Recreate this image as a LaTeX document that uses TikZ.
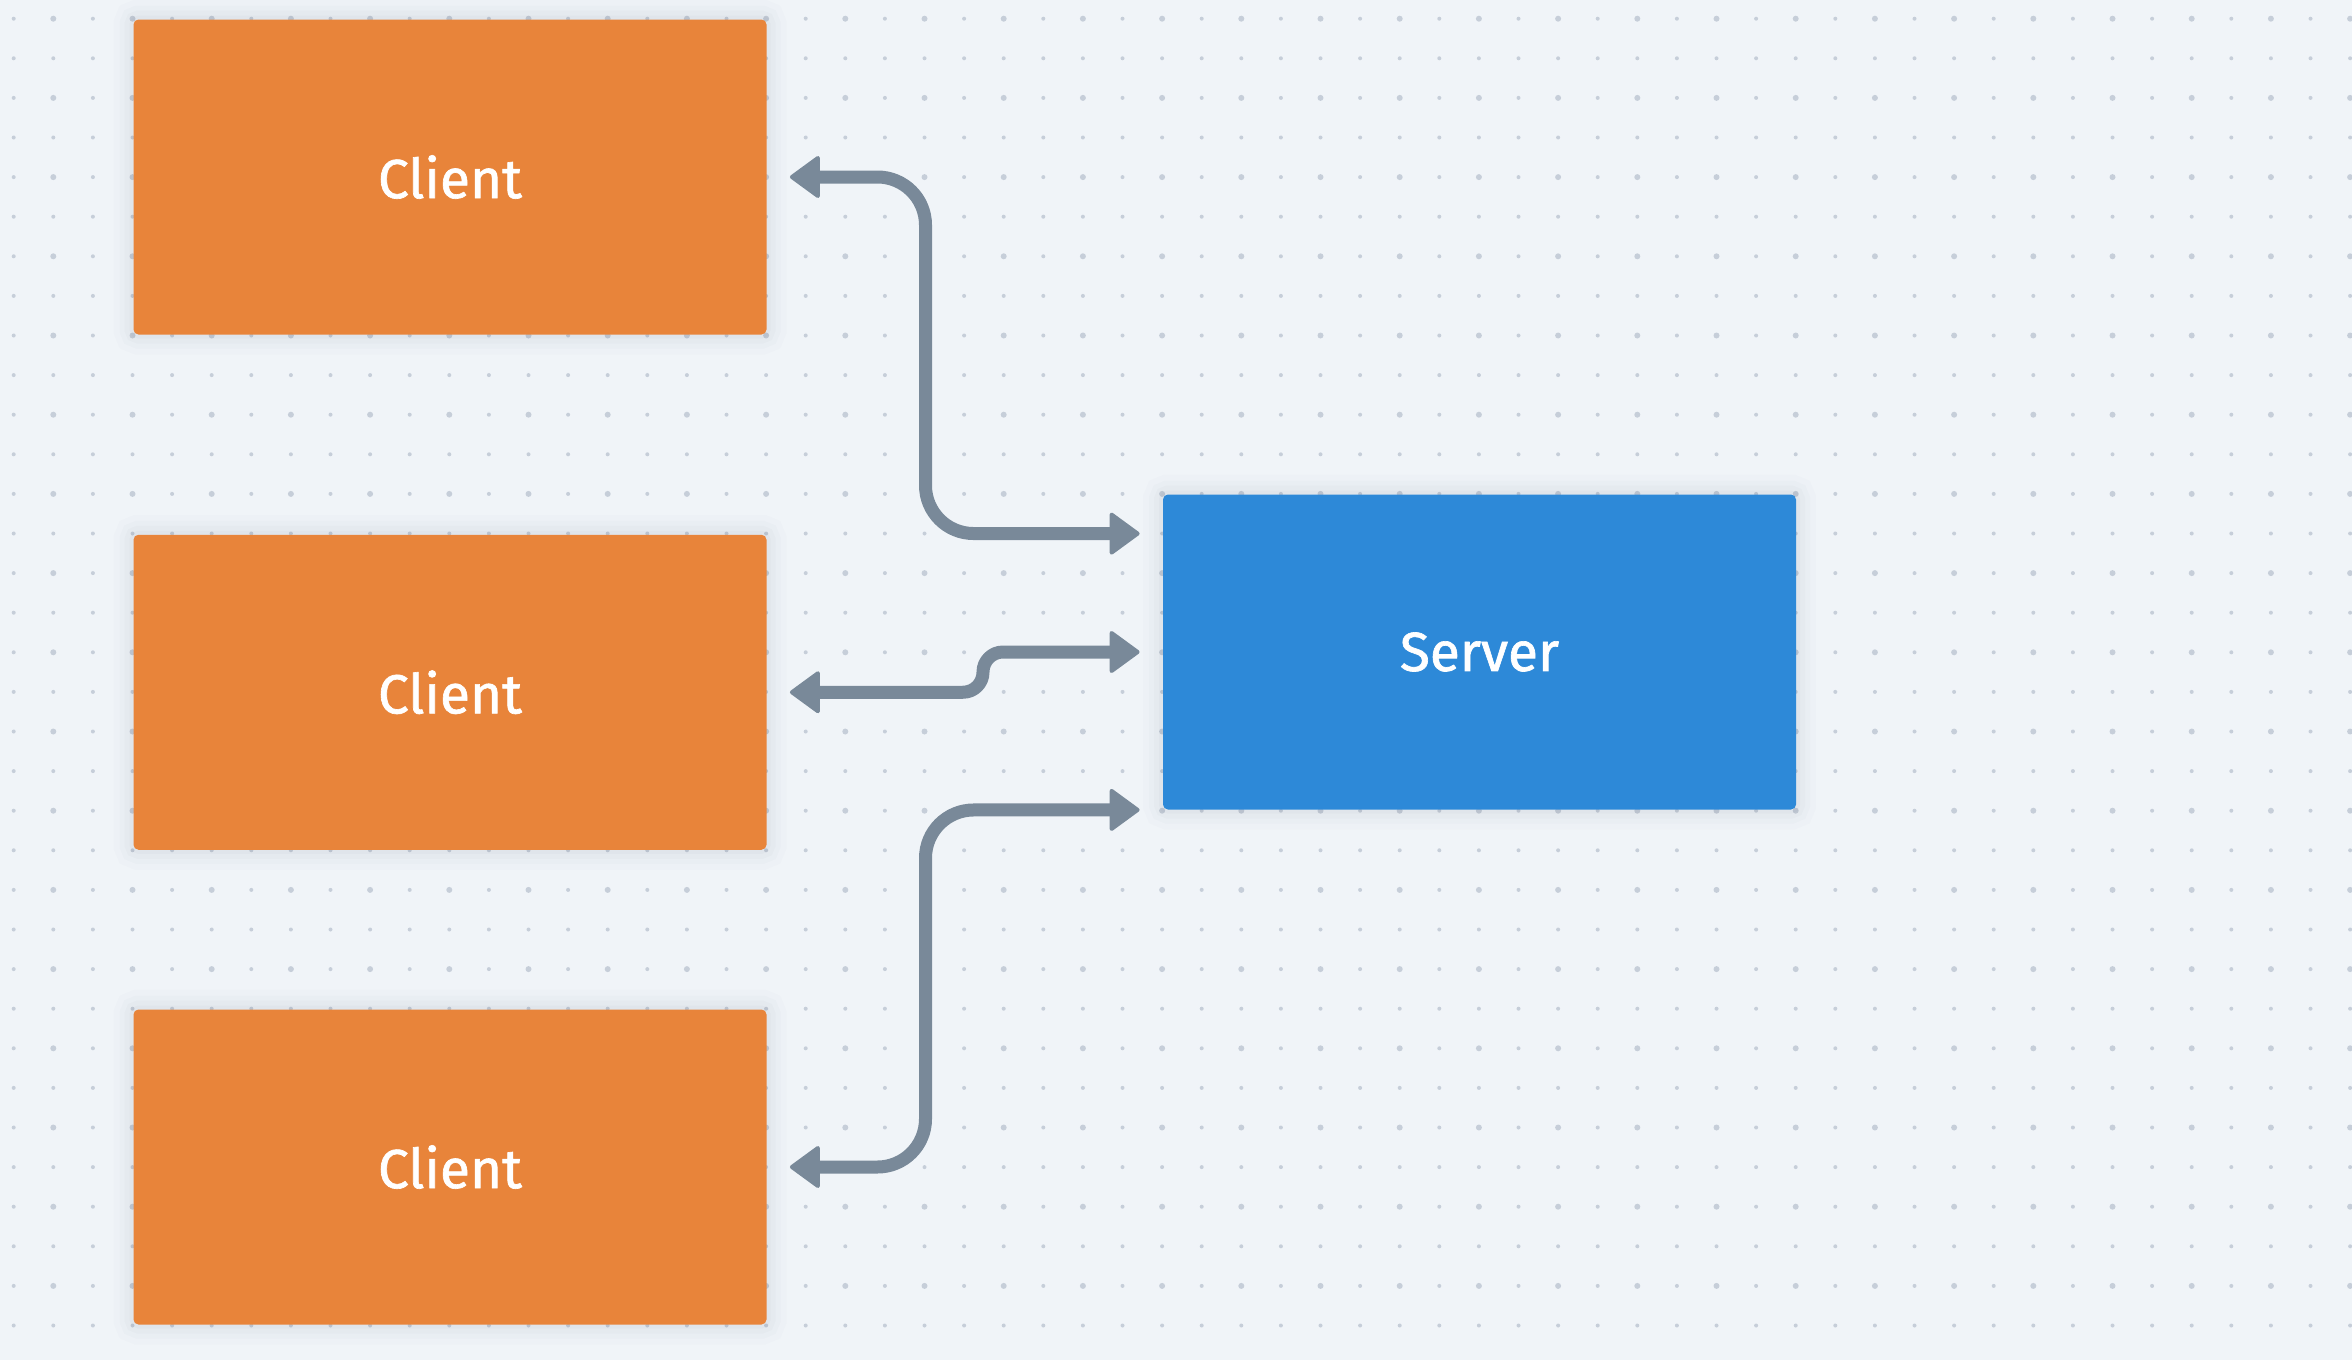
\documentclass[tikz,border=0pt]{standalone}
\usepackage{fontspec}
\setmainfont{Fira Sans}
\newfontfamily\boxfont{Fira Sans}[FakeBold=1.2]
\usetikzlibrary{calc}
\definecolor{bgc}{HTML}{F0F4F8}
\definecolor{dotc}{HTML}{C6CED9}
\definecolor{orangec}{HTML}{E8843A}
\definecolor{bluec}{HTML}{2D89D8}
\definecolor{linec}{HTML}{798999}
\definecolor{shadc}{HTML}{2A3A55}
\tikzset{
  boxbase/.style={rectangle, rounded corners=2.5pt, inner sep=0pt,
    minimum width=316.5pt, minimum height=157.5pt, text=white,
    font=\boxfont\fontsize{27.5pt}{32pt}\selectfont,
    preaction={draw=shadc, draw opacity=0.012, line width=20pt},
    preaction={draw=shadc, draw opacity=0.015, line width=14pt},
    preaction={draw=shadc, draw opacity=0.02, line width=9pt},
    preaction={draw=shadc, draw opacity=0.025, line width=4pt}},
  clientbox/.style={boxbase, fill=orangec},
  serverbox/.style={boxbase, fill=bluec},
  conn/.style={draw=linec, line width=6.5pt, line join=round,
    shorten <=22pt, shorten >=22pt},
  headtip/.style={fill=linec, draw=linec, line width=2pt, line join=round}
}
\newcommand{\headL}[1]{\filldraw[headtip] ($(#1)+(25,0)$) -- ++(26,-19) -- ++(0,38) -- cycle;}
\newcommand{\headR}[1]{\filldraw[headtip] ($(#1)+(-25,0)$) -- ++(-26,-19) -- ++(0,38) -- cycle;}
\begin{document}
\begin{tikzpicture}[x=0.5pt,y=-0.5pt]
\fill[bgc] (0,0) rectangle (2352,1360);
\useasboundingbox (0,0) rectangle (2352,1360);
\foreach \i in {0,...,59}{
  \foreach \j in {0,...,34}{
    \pgfmathsetmacro{\px}{13.7+39.6*\i}
    \pgfmathsetmacro{\py}{18.7+39.6*\j}
    \pgfmathtruncatemacro{\big}{(mod(\i,2)==1)&&(mod(\j,2)==0)}
    \ifnum\big=1
      \fill[dotc] (\px,\py) circle[radius=1.5pt];
    \else
      \fill[dotc] (\px,\py) circle[radius=1pt];
    \fi
  }
}
\node[clientbox] (c1) at (450,177) {\raisebox{-1.5pt}{Client}};
\node[clientbox] (c2) at (450,692.25) {\raisebox{-1.5pt}{Client}};
\node[clientbox] (c3) at (450,1167) {\raisebox{-1.5pt}{Client}};
\node[serverbox] (srv) at (1479.5,652) {\raisebox{-1.5pt}{Server}};
\coordinate (s1) at ($(srv.north west)+(0,39.5)$);
\coordinate (s3) at (srv.south west);
\coordinate (j1) at (925.5,533.5);
\coordinate (j2) at (983,652);
\coordinate (j3) at (925.5,810);
\draw[conn, rounded corners=24pt] (c1.east) -| (j1) -- (s1);
\draw[conn, rounded corners=10pt] (c2.east) -| (j2) -- (srv.west);
\draw[conn, rounded corners=24pt] (c3.east) -| (j3) -- (s3);
\headL{c1.east}
\headL{c2.east}
\headL{c3.east}
\headR{s1}
\headR{srv.west}
\headR{s3}
\end{tikzpicture}
\end{document}
